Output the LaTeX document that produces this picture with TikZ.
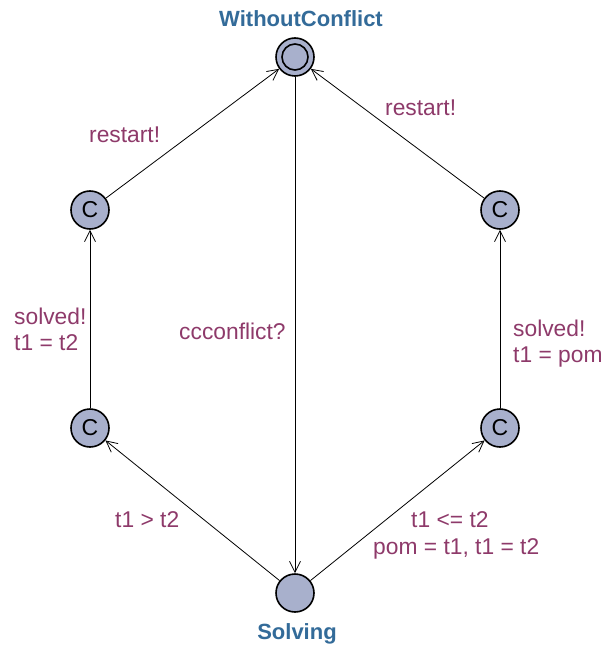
\documentclass[tikz,border=0pt]{standalone}
\usepackage{fontspec}
\setmainfont{Liberation Sans}
\usetikzlibrary{arrows.meta}
\definecolor{locfill}{HTML}{A8B0CC}
\definecolor{locname}{HTML}{336B99}
\definecolor{lbl}{HTML}{8E3A6A}
\tikzset{
  loc/.style={circle, draw=black, line width=1.6pt, fill=locfill, minimum size=38pt, inner sep=0pt},
  committed/.style={loc, font=\fontsize{23}{26}\selectfont, text=black},
  locnm/.style={font=\fontsize{22}{26}\selectfont\bfseries, text=locname},
  lab/.style={font=\fontsize{22.8}{26}\selectfont, text=lbl, inner sep=0pt, align=left},
  edge/.style={draw=black, line width=0.8pt, -{Straight Barb[length=11pt,width=11pt,line width=0.8pt]}}
}
\begin{document}
\begin{tikzpicture}[x=1pt,y=-1pt]
\useasboundingbox (0,0) rectangle (605,652);
% locations
\node[loc] (wc) at (295,57) {};
\draw[line width=1.6pt] (wc.center) circle (13pt);
\node[loc] (solv) at (295,593) {};
\node[committed] (lt) at (90,210) {C};
\node[committed] (lb) at (90,428) {C};
\node[committed] (rt) at (500,210) {C};
\node[committed] (rb) at (500,428) {C};
% names
\node[locnm, anchor=base] (wcn) at (301,27) {WithoutConflict};
\node[locnm, anchor=base] (solvn) at (297,639) {Solving};
% edges
\draw[edge] (wc) -- (solv);
\draw[edge] (solv) -- (lb);
\draw[edge] (lb) -- (lt);
\draw[edge] (lt) -- (wc);
\draw[edge] (solv) -- (rb);
\draw[edge] (rb) -- (rt);
\draw[edge] (rt) -- (wc);
% labels
\node[lab, anchor=base west] (l1) at (89,143) {restart!};
\node[lab, anchor=base west] (l2) at (385,116) {restart!};
\node[lab, anchor=base west] (l3) at (14,350) {solved!\\t1 = t2};
\node[lab, anchor=base west] (l4) at (513,362) {solved!\\t1 = pom};
\node[lab, anchor=base west] (l5) at (179,339) {ccconflict?};
\node[lab, anchor=base west] (l6) at (115,527) {t1 > t2};
\node[lab, anchor=base west] (l7) at (411,527) {t1 <= t2};
\node[lab, anchor=base west] (l8) at (373,554) {pom = t1, t1 = t2};
\end{tikzpicture}
\end{document}
